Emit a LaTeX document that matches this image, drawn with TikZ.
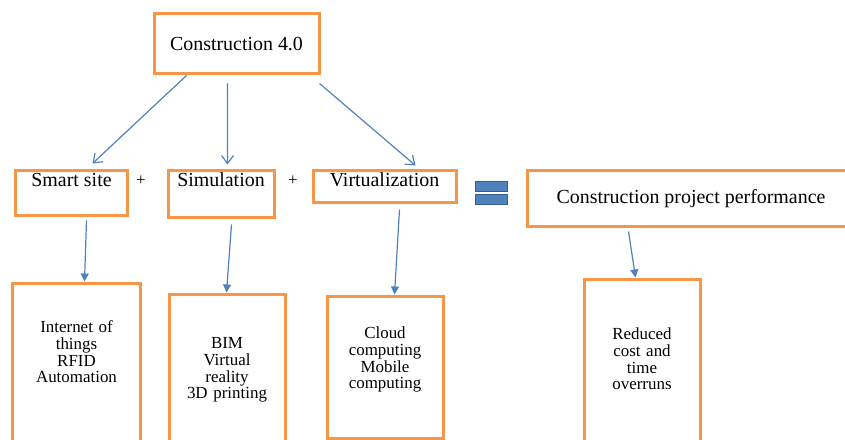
\documentclass[tikz,border=0pt]{standalone}
\usepackage{fontspec}
\setmainfont{Liberation Serif}
\usepackage{xcolor}
\usepackage{tikz}
\definecolor{boxorange}{RGB}{247, 150, 70}
\definecolor{linkblue}{RGB}{79, 129, 189}
\definecolor{eqborder}{RGB}{56, 93, 138}
\usetikzlibrary{arrows.meta, positioning}

\begin{document}
\begin{tikzpicture}[
    x=1bp, y=-1bp,
    card/.style={rectangle, draw=boxorange, line width=3bp, inner sep=1bp, align=center, font=\fontsize{20}{24}\selectfont},
    tallcard/.style={card, font=\fontsize{17}{16.7}\selectfont},
    sign/.style={font=\fontsize{17}{20}\selectfont, inner sep=0pt},
    eqbar/.style={fill=linkblue, draw=eqborder, line width=1bp},
    link/.style={draw=linkblue, line width=1.2bp, -{Straight Barb[length=8bp,width=12bp]}},
    feed/.style={draw=linkblue, line width=1.2bp, -{Triangle[length=8bp,width=8bp]}}
]
    \useasboundingbox (0,0) rectangle (845,440);

    \node[card, minimum width=165bp, minimum height=60bp] (c40) at (236.5,44) {Construction 4.0};

    \node[card, minimum width=111bp, text height=15bp, text depth=28bp] (smart) at (71.5,193.5) {Smart site};
    \node[card, minimum width=106bp, text height=15bp, text depth=30bp] (sim) at (221,194.5) {Simulation};
    \node[card, minimum width=143bp, text height=15bp, text depth=15bp] (virt) at (384.5,187) {Virtualization};
    \node[card, minimum width=328bp, minimum height=56bp] (cpp) at (691,199) {Construction project performance};

    \node[sign] (plusa) at (141,181) {+};
    \node[sign] (plusb) at (293,181) {+};

    % equals sign
    \draw[eqbar] (475.5,182) rectangle (507.5,192);
    \draw[eqbar] (475.5,195) rectangle (507.5,204.5);

    \node[tallcard, text width=125bp, text height=48bp, text depth=108bp] (iot) at (76.5,363) {Internet of\\things\\RFID\\Automation};
    \node[tallcard, text width=114bp, text height=53bp, text depth=92bp] (bim) at (227,368.5) {BIM\\Virtual\\reality\\3D printing};
    \node[tallcard, text width=114bp, text height=41bp, text depth=98bp] (cloud) at (385,367.5) {Cloud\\computing\\Mobile\\computing};
    \node[tallcard, text width=114bp, text height=59bp, text depth=101bp] (reduced) at (642,361) {Reduced\\cost and\\time\\overruns};

    \draw[link] ([xshift=34bp]c40.south west) -- ([xshift=78bp,yshift=6bp]smart.north west);
    \draw[link] ([xshift=75bp,yshift=-8bp]c40.south west) -- ([xshift=61bp,yshift=5bp]sim.north west);
    \draw[link] ([xshift=-1bp,yshift=-8bp]c40.south east) -- ([xshift=104bp,yshift=4bp]virt.north west);

    \draw[feed] ([xshift=72bp,yshift=-3bp]smart.south west) -- ([xshift=73bp,yshift=1bp]iot.north west);
    \draw[feed] ([xshift=65bp,yshift=-5bp]sim.south west) -- ([xshift=59bp,yshift=1bp]bim.north west);
    \draw[feed] ([xshift=88bp,yshift=-5bp]virt.south west) -- ([xshift=69bp,yshift=1bp]cloud.north west);
    \draw[feed] ([xshift=103bp,yshift=-3bp]cpp.south west) -- ([xshift=53bp,yshift=1bp]reduced.north west);
\end{tikzpicture}
\end{document}
